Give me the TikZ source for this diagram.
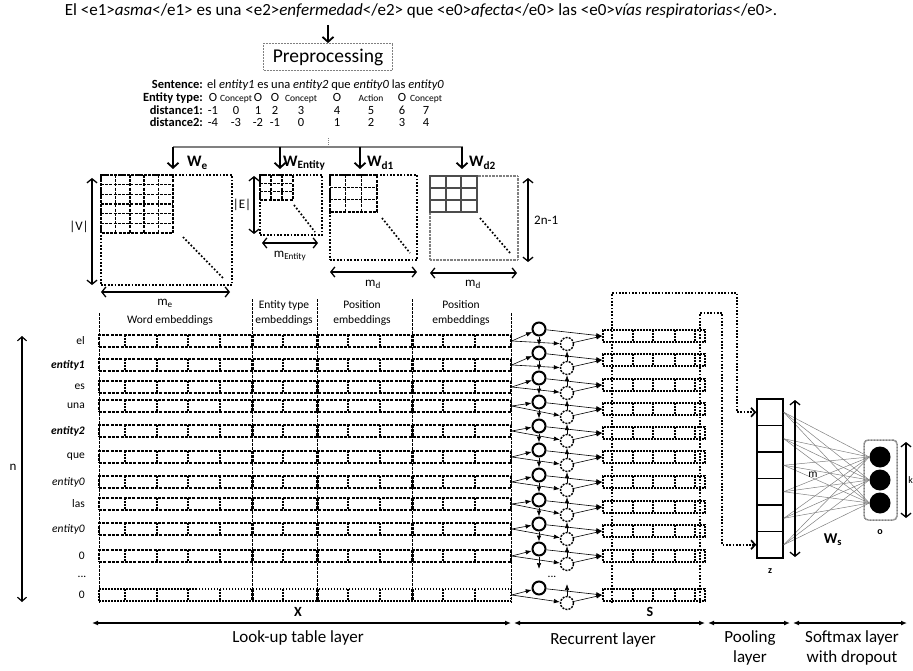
\documentclass[tikz,border=0pt]{standalone}
\usepackage{fontspec}
\setmainfont{Carlito}
\usetikzlibrary{arrows.meta,positioning}

\begin{document}
\begin{tikzpicture}[x=1pt,y=-1pt,
every node/.style={inner sep=0pt,font=\fontsize{11.5}{14}\selectfont},
sentfont/.style={font=\fontsize{17}{19}\selectfont},
tabfont/.style={font=\fontsize{12.5}{14}\selectfont},
rowhead/.style={anchor=base east,font=\bfseries\fontsize{12.5}{14}\selectfont},
wlab/.style={anchor=west,font=\bfseries\fontsize{16}{18}\selectfont},
dimlab/.style={font=\fontsize{13}{15}\selectfont},
layerlab/.style={font=\fontsize{17}{20}\selectfont,align=center},
warr/.style={line width=1.8pt,-{Straight Barb[length=5pt,width=11pt]}},
dimarr/.style={line width=1.3pt,{Straight Barb[length=4pt,width=10pt]}-{Straight Barb[length=4pt,width=10pt]}},
layarr/.style={line width=1.3pt,{Latex[length=6pt,width=5pt]}-{Latex[length=6pt,width=5pt]}},
matbox/.style={draw,line width=1.8pt,dash pattern=on 1.8pt off 1.6pt},
grayb/.style={draw=gray,line width=1.8pt,dash pattern=on 1pt off 0.4pt},
gridl/.style={line width=1.6pt,dash pattern=on 3pt off 1.2pt},
solgrid/.style={line width=1.8pt,draw=black!70},
diagdots/.style={line width=1.7pt,dash pattern=on 1.7pt off 2pt},
sepl/.style={line width=0.6pt,dash pattern=on 2.5pt off 1.5pt},
xrow/.style={draw,line width=1.5pt,dash pattern=on 3pt off 1.3pt,minimum width=412,minimum height=12},
xrowlast/.style={draw,line width=1.5pt,dash pattern=on 1.5pt off 1.5pt,minimum width=412,minimum height=12},
srow/.style={draw,line width=1.5pt,dash pattern=on 2pt off 1pt,minimum width=102,minimum height=12},
rowtick/.style={line width=1.3pt,dash pattern=on 2pt off 1pt},
sepblock/.style={line width=3pt,dash pattern=on 3pt off 1pt},
fwd/.style={circle,draw,line width=2pt,minimum size=13},
bwd/.style={circle,draw,line width=1.4pt,dash pattern=on 2pt off 1.2pt,minimum size=13},
rarr/.style={line width=0.6pt,-{Latex[length=6pt,width=4.5pt]}},
poolarr/.style={line width=1.7pt,dash pattern=on 1.7pt off 1.6pt,-{Straight Barb[length=4pt,width=9pt]}},
zcell/.style={draw,line width=1.6pt,minimum width=26,minimum height=26.5},
ocirc/.style={circle,fill=black,minimum size=21},
wire/.style={gray,line width=0.5pt}]
\useasboundingbox (0,0) rectangle (913,671);

\node[sentfont] (sent) at (421,11) {El <e1>\textit{asma}</e1> es una <e2>\textit{enfermedad}</e2> que <e0>\textit{afecta}</e0> las <e0>\textit{vías respiratorias}</e0>.};
\node[draw=gray,line width=0.8pt,dash pattern=on 1pt off 0.5pt,minimum width=129,minimum height=27,font=\fontsize{19.5}{21}\selectfont] (prep) at (328,57) {Preprocessing};
\coordinate (sentarr) at (328,25);
\draw[warr] (sentarr) -- (prep.north);

\node[rowhead] (hs) at (203,89) {Sentence:};
\node[rowhead] (he) at (203,102) {Entity type:};
\node[rowhead] (hd1) at (203,114.5) {distance1:};
\node[rowhead] (hd2) at (203,127) {distance2:};
\node[tabfont,anchor=base west] (tsent) at (207,89) {el \textit{entity1} es una \textit{entity2} que \textit{entity0} las \textit{entity0}};
\foreach \c/\t/\f [count=\k] in {213/O/12.5,236/Concept/9.5,258/O/12.5,275/O/12.5,301/Concept/9.5,337/O/12.5,371/Action/9.5,402/O/12.5,426/Concept/9.5}
  \node[anchor=base,font=\fontsize{\f}{12}\selectfont] (et\k) at (\c,102) {\t};
\foreach \c/\a/\b [count=\k] in {213/-1/-4,236/0/-3,258/1/-2,275/2/-1,301/3/0,337/4/1,371/5/2,402/6/3,426/7/4}
{
  \node[tabfont,anchor=base] (da\k) at (\c,114.5) {\a};
  \node[tabfont,anchor=base] (db\k) at (\c,127) {\b};
}

\coordinate (br) at (328,147);
\draw[gray,line width=1.5pt] (173,147) -- (463,147);
\draw[gray,line width=1pt,dash pattern=on 1pt off 1pt] (br) -- ++(0,-10);
\foreach \c in {173,280,360,462}
  \draw[warr] (\c,147) -- (\c,169);
\node[wlab] (lwe) at (187,163) {W\textsubscript{e}};
\node[wlab] (lwent) at (283,163) {W\textsubscript{Entity}};
\node[wlab] (lwd1) at (367,163) {W\textsubscript{d1}};
\node[wlab] (lwd2) at (469,163) {W\textsubscript{d2}};

\node[matbox,minimum width=131,minimum height=110] (We) at (166.5,230) {};
\draw[gridl] (101,175) rectangle (173,233);
\foreach \k in {1,...,4} \draw[gridl] (101+\k*14.4,175) -- ++(0,58);
\foreach \k in {1,...,5} \draw[gridl] (101,175+\k*9.67) -- ++(72,0);
\draw[diagdots] (183,237) -- (223,278);
\draw[dimarr] (92,178) -- (92,285);
\node[dimlab] (lv) at (79,227) {|V|};
\draw[dimarr] (101,292) -- (230,292);
\node[dimlab] (lme) at (165,303) {m\textsubscript{e}};

\node[matbox,minimum width=62,minimum height=60] (Went) at (291,205) {};
\draw[gridl] (260,175) rectangle (293,200);
\foreach \k in {1,2} \draw[gridl] (260+\k*11,175) -- ++(0,25);
\foreach \k in {1,2} \draw[gridl] (260,175+\k*8.33) -- ++(33,0);
\draw[diagdots] (294,205) -- (315,232);
\draw[dimarr] (254,176) -- (254,234);
\node[dimlab] (le) at (242,205) {|E|};
\draw[dimarr] (262,243) -- (318,243);
\node[dimlab] (lment) at (290,256) {m\textsubscript{Entity}};

\node[matbox,minimum width=87,minimum height=85] (Wd1) at (373.5,217.5) {};
\draw[gridl] (330,175) rectangle (377,212);
\foreach \k in {1,2} \draw[gridl] (330+\k*15.67,175) -- ++(0,37);
\foreach \k in {1,2} \draw[gridl] (330,175+\k*12.33) -- ++(47,0);
\draw[diagdots] (382,218) -- (410,253);
\draw[dimarr] (330,272) -- (417,272);
\node[dimlab] (lmd1) at (373,284) {m\textsubscript{d}};

\node[grayb,minimum width=88,minimum height=84] (Wd2) at (474,218) {};
\draw[solgrid] (430,176) rectangle (477,212);
\foreach \k in {1,2} \draw[solgrid] (430+\k*15.67,176) -- ++(0,36);
\foreach \k in {1,2} \draw[solgrid] (430,176+\k*12) -- ++(47,0);
\draw[diagdots] (480,218) -- (510,253);
\draw[dimarr] (430,273) -- (517,273);
\node[dimlab] (lmd2) at (473,284) {m\textsubscript{d}};
\draw[dimarr] (528,178) -- (528,262);
\node[dimlab,anchor=west] (l2n) at (534,220) {2n-1};

\node (hw) at (170,320) {Word embeddings};
\node[align=center,font=\fontsize{11.5}{15}\selectfont] (het) at (284,313) {Entity type\\embeddings};
\node[align=center,font=\fontsize{11.5}{15}\selectfont] (hp1) at (362,313) {Position\\embeddings};
\node[align=center,font=\fontsize{11.5}{15}\selectfont] (hp2) at (461,313) {Position\\embeddings};
\draw[sepl] (99,313) -- (99,603);
\draw[sepl] (511,313) -- (511,603);
\foreach \c in {252,317,412} \draw[sepl] (\c,299) -- (\c,603);

\draw[line width=1.2pt,{Straight Barb[length=4pt,width=9pt]}-{Straight Barb[length=4pt,width=9pt]}] (22,336) -- (22,602);
\node[dimlab] (ln) at (13,467) {n};

\foreach \i/\yx/\ys/\w in {1/341/336/el,2/365/360/{\textbf{\textit{entity1}}},3/387/385/es,4/406/409/una,5/431/433/{\textbf{\textit{entity2}}},6/457/457/que,7/482/482/{\textit{entity0}},8/504/507/las,9/529/531/{\textit{entity0}},10/556/556/0,11/595/595/0}
{
  \ifnum\i<11 \tikzset{rowsty/.style=xrow}\else\tikzset{rowsty/.style=xrowlast}\fi
  \node[anchor=east] (w\i) at (85,\yx) {\w};
  \node[rowsty] (x\i) at (305,\yx) {};
  \foreach \t in {125,157,188,220,283,348,380,443,475}
    \draw[rowtick] (\t,\yx-6) -- (\t,\yx+6);
  \foreach \t in {252,317,412}
    \draw[sepblock] (\t,\yx-6) -- (\t,\yx+6);
  \node[srow] (s\i) at (654,\ys) {};
  \foreach \t in {633,653,675,695}
    \draw[rowtick] (\t,\ys-6) -- (\t,\ys+6);
  \node[fwd] (f\i) at (539,\ys-7) {};
  \node[bwd] (b\i) at (567,\ys+8) {};
  \draw[rarr] (x\i.east) -- (f\i);
  \draw[rarr] (x\i.east) -- (b\i);
  \draw[rarr] (f\i) -- (s\i.west);
  \draw[rarr] (b\i) -- (s\i.west);
}
\node (wdots) at (82,577) {...};
\node (rdots) at (552,577) {...};
\foreach \i [evaluate=\i as \j using int(\i+1)] in {1,...,9}
{
  \draw[rarr] (f\i) -- (f\j);
  \draw[rarr] (b\j) -- (b\i);
}
\coordinate (fend) at (539,569);
\coordinate (bend) at (567,584);
\draw[rarr] (f10) -- (fend);
\draw[rarr] (b11) -- (bend);

\foreach \k in {1,...,6}
  \node[zcell] (z\k) at (770,{412.25+(\k-1)*26.5}) {};
\node[font=\bfseries\fontsize{10}{12}\selectfont] (lz) at (770,571) {z};
\draw[poolarr] (612,603) |- (737,293) |- (z1.west);
\draw[poolarr] (700,603) |- (722,313) |- (z6.west);

\node[draw=gray,line width=1.5pt,dash pattern=on 1pt off 0.5pt,rounded corners=4pt,minimum width=33,minimum height=80] (obox) at (880.5,480) {};
\foreach \k/\yy in {1/457,2/480,3/503}
  \node[ocirc] (o\k) at (880,\yy) {};
\foreach \a in {1,...,6}
  \foreach \b in {1,2,3}
    \draw[wire] (z\a.east) -- (o\b.west);
\draw[dimarr] (795,400) -- (795,557);
\node (lm) at (813,475) {m};
\draw[dimarr] (906,442) -- (906,518);
\node[anchor=east,font=\fontsize{10}{12}\selectfont] (lk) at (913,480) {k};
\node[font=\bfseries\fontsize{15}{17}\selectfont] (lws) at (833,540) {W\textsubscript{s}};
\node[font=\bfseries\fontsize{10}{12}\selectfont] (lo) at (880,532) {o};

\coordinate (e0) at (92,623);
\coordinate (e1) at (511,623);
\coordinate (e2) at (514,623);
\coordinate (e3) at (705,623);
\coordinate (e4) at (708,623);
\coordinate (e5) at (790,623);
\coordinate (e6) at (793,623);
\coordinate (e7) at (907,623);
\draw[layarr] (e0) -- (e1);
\draw[layarr] (e2) -- (e3);
\draw[layarr] (e4) -- (e5);
\draw[layarr] (e6) -- (e7);
\node[font=\bfseries\fontsize{14}{16}\selectfont] (lx) at (298,612) {X};
\node[font=\bfseries\fontsize{14}{16}\selectfont] (ls) at (650,612) {S};
\node[layerlab] (lay1) at (298,638) {Look-up table layer};
\node[layerlab] (lay2) at (603,640) {Recurrent layer};
\node[layerlab] (lay3) at (750,648) {Pooling\\layer};
\node[layerlab] (lay4) at (852,648) {Softmax layer\\with dropout};
\end{tikzpicture}
\end{document}
